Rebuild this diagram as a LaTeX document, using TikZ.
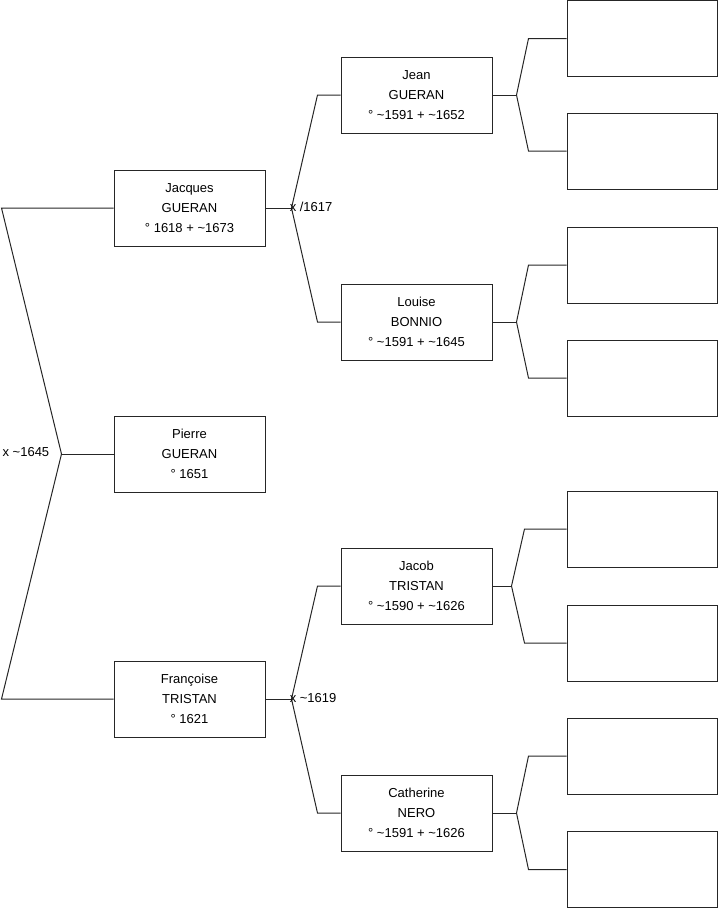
\documentclass[tikz,border=0pt]{standalone}
\usepackage{fontspec}
\setmainfont{Liberation Sans}
\usetikzlibrary{calc}
\tikzset{
  person/.style={draw=black!85,fill=white,align=center,line width=0.75pt,
    minimum width=113.25pt,minimum height=57pt,inner sep=0pt,
    font=\fontsize{9.75}{15}\selectfont},
  blank/.style={person,minimum width=112.5pt},
  link/.style={draw=black!85,line width=0.75pt},
  wed/.style={font=\fontsize{9.75}{12}\selectfont,inner sep=0pt},
}

\begin{document}
\begin{tikzpicture}[x=0.75pt,y=-0.75pt]
  \useasboundingbox (0,0) rectangle (719,908);
  % generation 1
  \node[person] (jacques) at (189.5,208) {Jacques\\GUERAN\\° 1618 + \textasciitilde1673};
  \node[person] (pierre) at (189.5,454) {Pierre\\GUERAN\\° 1651};
  \node[person] (francoise) at (189.5,699) {Françoise\\TRISTAN\\° 1621};
  % generation 2
  \node[person] (jean) at (416.5,95) {Jean\\GUERAN\\° \textasciitilde1591 + \textasciitilde1652};
  \node[person] (louise) at (416.5,322) {Louise\\BONNIO\\° \textasciitilde1591 + \textasciitilde1645};
  \node[person] (jacob) at (416.5,586) {Jacob\\TRISTAN\\° \textasciitilde1590 + \textasciitilde1626};
  \node[person] (catherine) at (416.5,813) {Catherine\\NERO\\° \textasciitilde1591 + \textasciitilde1626};
  % generation 3 (empty)
  \foreach \n/\y in {a1/38.5,a2/151,a3/265,a4/378,a5/529,a6/643,a7/756,a8/869.5}
    \node[blank] (\n) at (642,\y) {};
  % couples
  \coordinate (x0) at ($(pierre.west)+(-52,0)$);
  \draw[link] (pierre.west) -- (x0);
  \foreach \c in {jacques,francoise}
    \draw[link] (x0) -- ($(\c.west)+(-112,0)$) -- (\c.west);
  \node[wed,anchor=east] (w0) at ($(x0)+(-12,-2)$) {x \textasciitilde1645};
  \foreach \k/\p/\a/\b in {x1/jacques/jean/louise,x2/francoise/jacob/catherine}{
    \coordinate (\k) at ($(\p.east)+(26,0)$);
    \draw[link] (\p.east) -- (\k);
    \foreach \c in {\a,\b}
      \draw[link] (\k) -- ($(\c.west)+(-23,0)$) -- (\c.west);
  }
  \node[wed,anchor=west] (w1) at ($(x1)+(-2,-1)$) {x /1617};
  \node[wed,anchor=west] (w2) at ($(x2)+(-2,-1)$) {x \textasciitilde1619};
  % grandparents
  \foreach \p/\a/\b/\f/\g in {jean/a1/a2/24/38,louise/a3/a4/24/38,jacob/a5/a6/19/42,catherine/a7/a8/24/38}{
    \draw[link] (\p.east) -- ++(\f,0) coordinate (y\p);
    \foreach \c in {\a,\b}
      \draw[link] (y\p) -- ($(\c.west)+(-\g,0)$) -- (\c.west);
  }
\end{tikzpicture}
\end{document}
